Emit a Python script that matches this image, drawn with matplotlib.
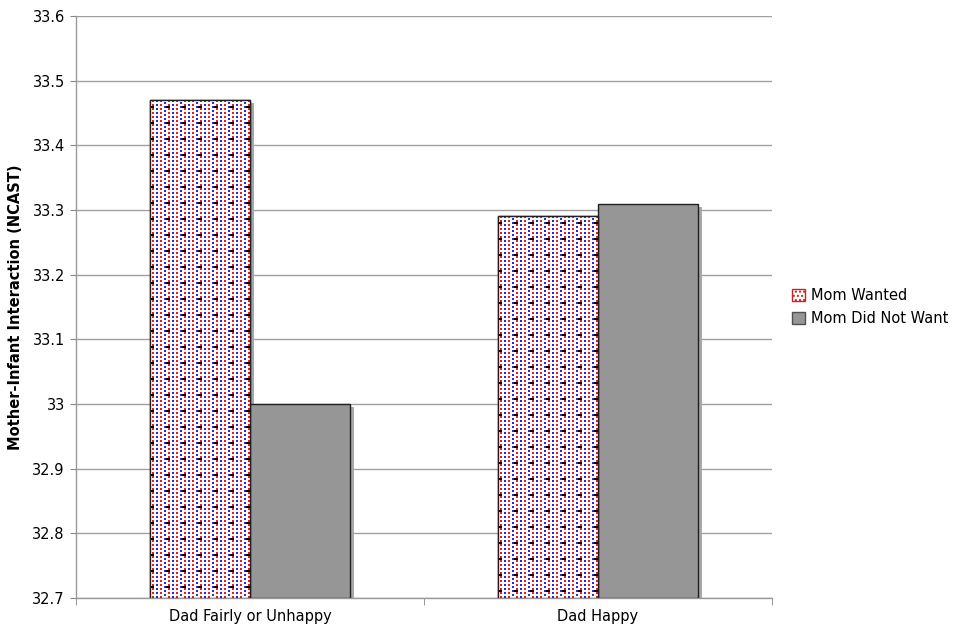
import numpy as np
import matplotlib
matplotlib.use("Agg")
import matplotlib.pyplot as plt
import matplotlib.patheffects as pe

# === DATA ===
categories = ["Dad Fairly or Unhappy", "Dad Happy"]
series_names = ["Mom Wanted", "Mom Did Not Want"]
mom_wanted = [33.47, 33.29]
mom_not_wanted = [33.00, 33.31]
y_ticks = [32.7, 32.8, 32.9, 33.0, 33.1, 33.2, 33.3, 33.4, 33.5, 33.6]
y_tick_labels = ["32.7", "32.8", "32.9", "33", "33.1", "33.2", "33.3", "33.4", "33.5", "33.6"]
y_label = "Mother-Infant Interaction (NCAST)"
# ============

plt.rcParams['font.family'] = ['DejaVu Sans']

fig = plt.figure(figsize=(9.55, 6.3), dpi=100)
ax = fig.add_axes([0.0796, 0.0508, 0.7288, 0.9238])

BASE = 32.7
width = 0.287
x = np.arange(len(categories))

shadow = [pe.SimplePatchShadow(offset=(2.6, -2.4), shadow_rgbFace='#a8a8a8', alpha=1.0), pe.Normal()]

bars1 = ax.bar(x - width / 2, np.array(mom_wanted) - BASE, width, bottom=BASE,
               color='white', edgecolor='#202020', linewidth=1.0, zorder=3,
               label=series_names[0], path_effects=shadow)
bars2 = ax.bar(x + width / 2, np.array(mom_not_wanted) - BASE, width, bottom=BASE,
               color='#969696', edgecolor='#202020', linewidth=1.0, zorder=3,
               label=series_names[1], path_effects=shadow)

ax.set_xlim(-0.5, 1.5)
ax.set_ylim(32.7, 33.6)

# dotted red/blue fill with black dashes, like the old spreadsheet pattern
def make_tile():
    red = (0.95, 0.1, 0.1)
    blue = (0.15, 0.15, 0.95)
    t = np.ones((8, 8, 3))
    for yy in range(0, 8, 2):
        t[yy, 1] = red
        t[yy, 3] = blue
        t[yy, 5] = red
        t[(yy + 1) % 8, 7] = blue
    t[3, 0:2] = (0, 0, 0)
    return np.repeat(np.repeat(t, 2, axis=0), 2, axis=1)

tile = make_tile()
fig.canvas.draw()
for b in bars1:
    x0, y0 = b.get_x(), b.get_y()
    x1, y1 = x0 + b.get_width(), y0 + b.get_height()
    (px0, py0), (px1, py1) = ax.transData.transform([(x0, y0), (x1, y1)])
    w = max(int(round(px1 - px0)), 1)
    h = max(int(round(py1 - py0)), 1)
    reps = (h // 16 + 2, w // 16 + 2, 1)
    img = np.tile(tile, reps)[:h, :w]
    im = ax.imshow(img, extent=(x0, x1, y0, y1), origin='upper',
                   interpolation='nearest', aspect='auto', zorder=3.5)
    im.set_clip_path(b)
    # redraw edge on top
    ax.bar(x0 + b.get_width() / 2, b.get_height(), b.get_width(), bottom=y0,
           fill=False, edgecolor='#202020', linewidth=1.0, zorder=4)

ax.set_yticks(y_ticks)
ax.set_yticklabels(y_tick_labels, fontsize=10.5)
ax.set_xticks(x)
ax.set_xticklabels(categories, fontsize=10.5)
ax.tick_params(axis='x', length=0, pad=8)
ax.tick_params(axis='y', length=4, color='#888888', pad=4)
ax.set_xticks([-0.5, 0.5, 1.5], minor=True)
ax.tick_params(axis='x', which='minor', length=5, color='#888888', direction='out')

ax.grid(axis='y', color='#a0a0a0', linewidth=1.0, zorder=0)
ax.set_axisbelow(True)
for s in ['top', 'right']:
    ax.spines[s].set_visible(False)
for s in ['left', 'bottom']:
    ax.spines[s].set_color('#999999')
    ax.spines[s].set_linewidth(1.0)

ax.set_ylabel(y_label, fontsize=10.5, fontweight='bold', labelpad=7)

leg = ax.legend(loc='center left', bbox_to_anchor=(1.01, 0.5), frameon=False,
                fontsize=10.5, handlelength=0.9, handleheight=0.9,
                handletextpad=0.4, labelspacing=0.5)
for i, h in enumerate(leg.legend_handles):
    h.set_path_effects([])
    if i == 0:
        h.set_hatch('....')
        h.set_edgecolor('#d02020')
    else:
        h.set_edgecolor('#505050')

fig.savefig("out.png", dpi=100)
